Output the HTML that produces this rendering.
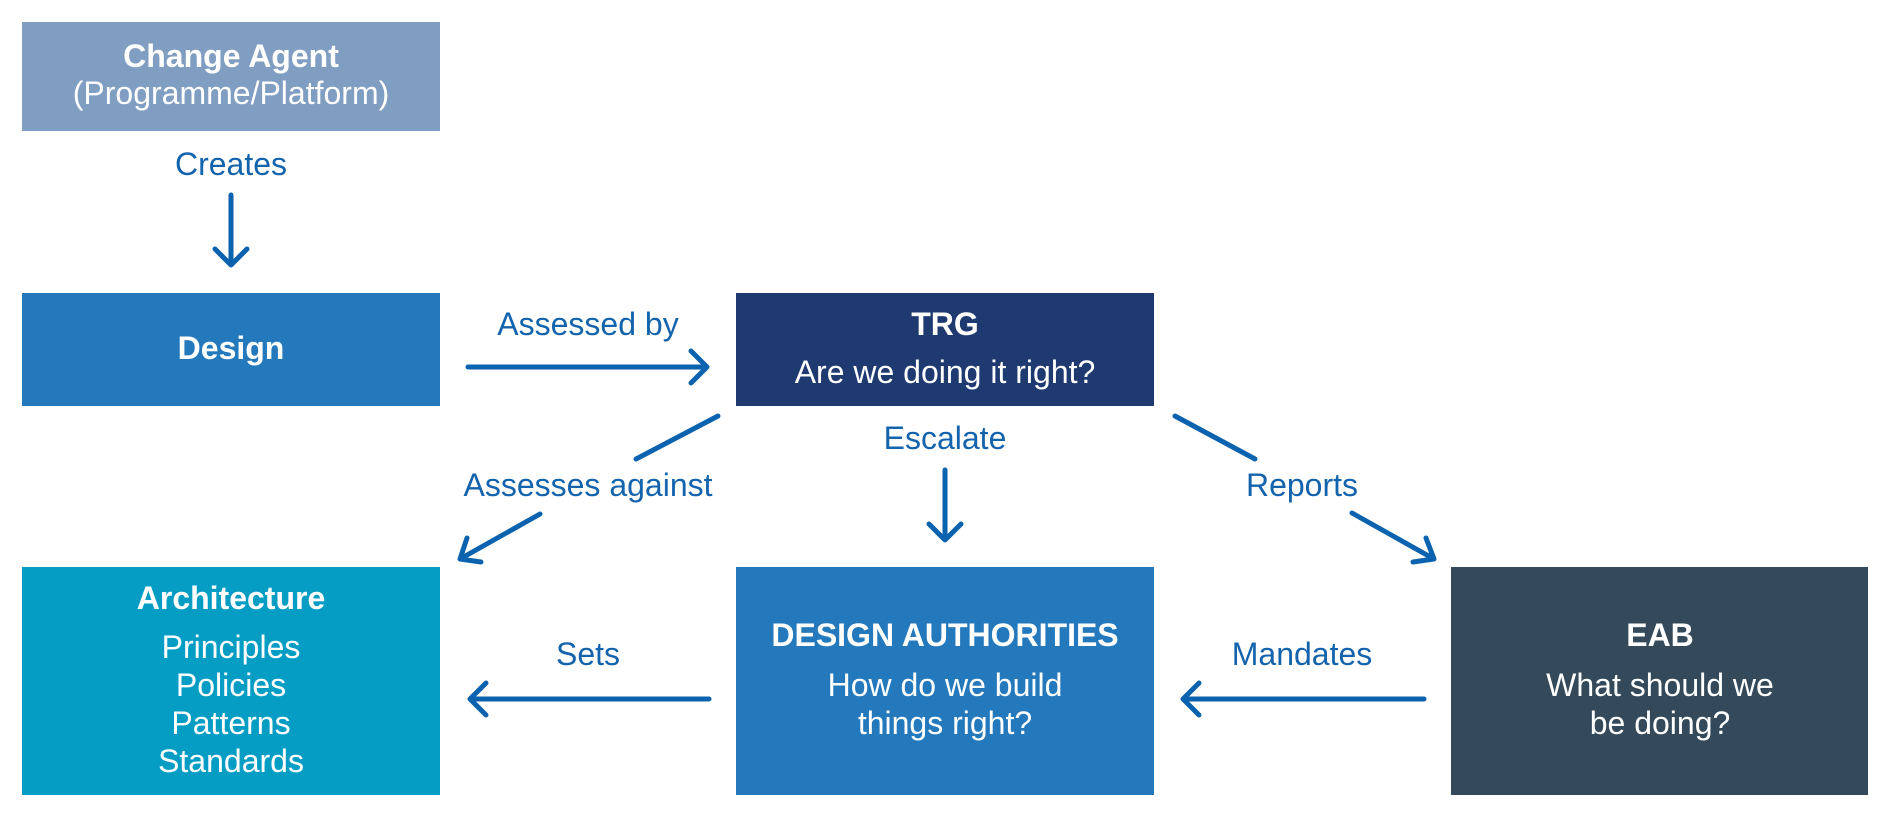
<!DOCTYPE html>
<html><head><meta charset="utf-8"><style>
html,body{margin:0;padding:0;background:#fff;}
svg{display:block;}
text{font-family:"Liberation Sans",sans-serif;font-size:32px;text-anchor:middle;}
.w{fill:#fff;}
.b{font-weight:bold;}
.l{fill:#1463ad;}
.a{stroke:#0b62ae;stroke-width:5;fill:none;stroke-linecap:round;stroke-linejoin:round;}
</style></head><body>
<svg width="1893" height="820" viewBox="0 0 1893 820">
<rect x="22" y="22" width="418" height="109" fill="#809dc2"/>
<rect x="22" y="293" width="418" height="113" fill="#2479bd"/>
<rect x="736" y="293" width="418" height="113" fill="#1f3a70"/>
<rect x="22" y="567" width="418" height="228" fill="#069dc4"/>
<rect x="736" y="567" width="418" height="228" fill="#2479bd"/>
<rect x="1451" y="567" width="417" height="228" fill="#344a5a"/>

<text class="w b" x="231" y="67">Change Agent</text>
<text class="w" x="231" y="104">(Programme/Platform)</text>
<text class="w b" x="231" y="359">Design</text>
<text class="w b" x="945" y="335">TRG</text>
<text class="w" x="945" y="383">Are we doing it right?</text>
<text class="w b" x="231" y="609">Architecture</text>
<text class="w" x="231" y="658">Principles</text>
<text class="w" x="231" y="696">Policies</text>
<text class="w" x="231" y="734">Patterns</text>
<text class="w" x="231" y="772">Standards</text>
<text class="w b" x="945" y="646">DESIGN AUTHORITIES</text>
<text class="w" x="945" y="696">How do we build</text>
<text class="w" x="945" y="734">things right?</text>
<text class="w b" x="1660" y="646">EAB</text>
<text class="w" x="1660" y="696">What should we</text>
<text class="w" x="1660" y="734">be doing?</text>

<text class="l" x="231" y="175">Creates</text>
<text class="l" x="588" y="335">Assessed by</text>
<text class="l" x="945" y="449">Escalate</text>
<text class="l" x="588" y="496">Assesses against</text>
<text class="l" x="1302" y="496">Reports</text>
<text class="l" x="588" y="665">Sets</text>
<text class="l" x="1302" y="665">Mandates</text>

<path class="a" d="M231 195 V265 M215 249 L231 265 L247 249"/>
<path class="a" d="M468 367 H707 M691 351 L707 367 L691 383"/>
<path class="a" d="M945 470 V540 M929 524 L945 540 L961 524"/>
<path class="a" d="M718 416 L636 459 M540 514 L460 559 M467 538 L460 559 L481 562"/>
<path class="a" d="M1175 416 L1255 459 M1352 513 L1434 559 M1426 538 L1434 559 L1413 562"/>
<path class="a" d="M709 699 H470 M486 683 L470 699 L486 715"/>
<path class="a" d="M1424 699 H1183 M1199 683 L1183 699 L1199 715"/>
</svg>
</body></html>
